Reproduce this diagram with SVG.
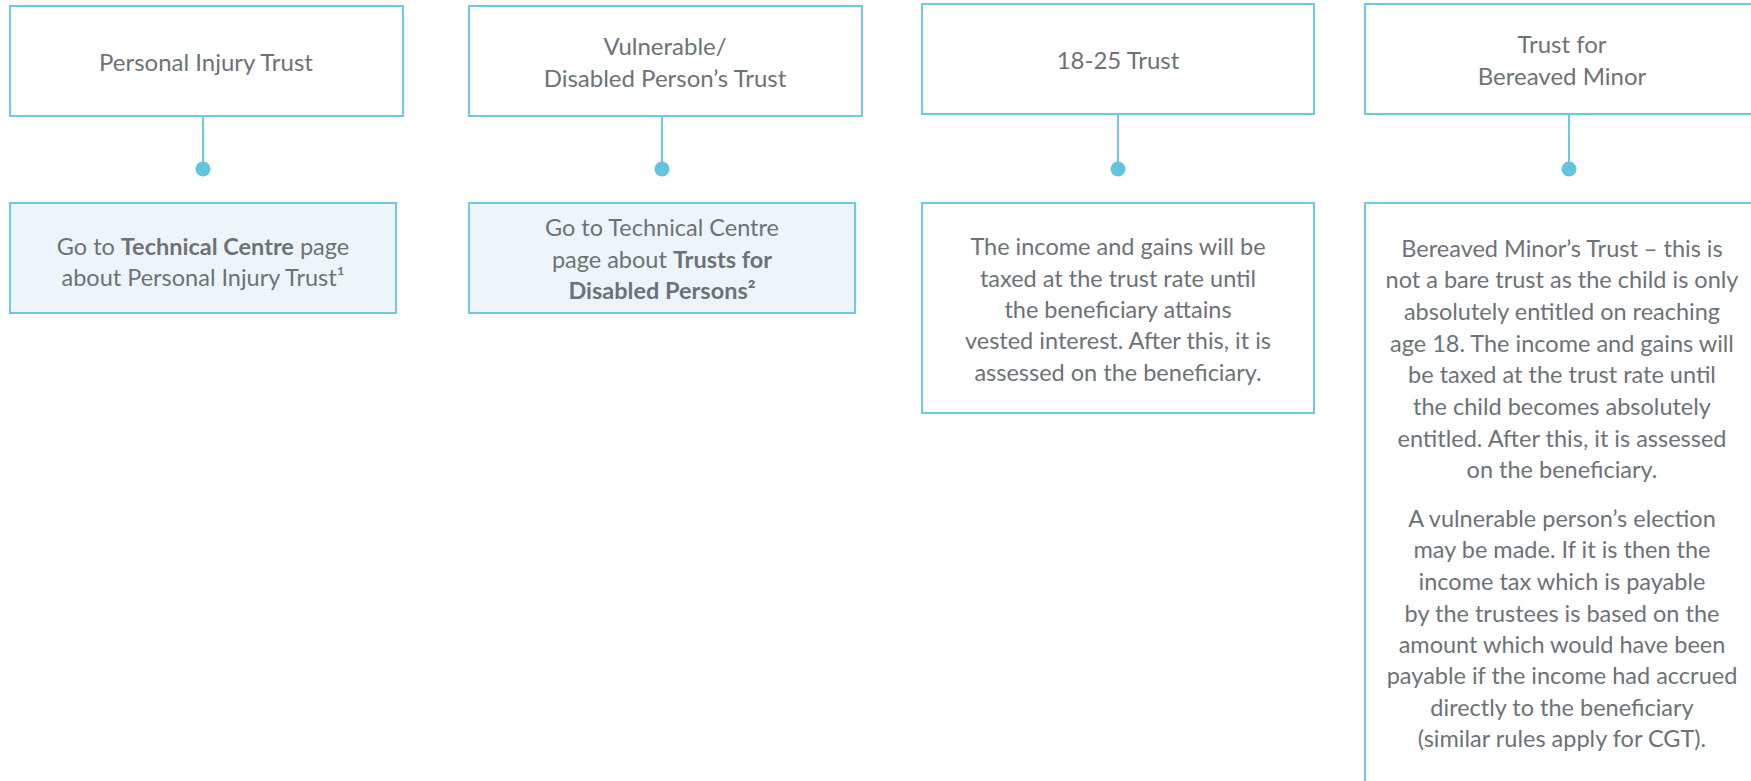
<svg xmlns="http://www.w3.org/2000/svg" width="1751" height="781" viewBox="0 0 1751 781">
  <style>
    .box { fill: #ffffff; stroke: #6ccbe1; stroke-width: 2; }
    .note { fill: #edf5fa; stroke: #6ccbe1; stroke-width: 2; }
    .link { stroke: #6ccbe1; stroke-width: 2; fill: none; }
    .dot { fill: #62c4dd; }
    text { font-family: Lato, "Open Sans", "Liberation Sans", sans-serif; font-size: 23.5px; fill: #6d7276; text-anchor: middle; }
    .title { font-size: 24px; }
    .b { font-weight: bold; }
  </style>
  <rect width="1751" height="781" fill="#ffffff"/>

  <!-- connectors: stem from each heading down to a dot -->
  <g id="connectors">
    <line class="link" x1="203" y1="116" x2="203" y2="169"/>
    <circle class="dot" cx="203" cy="169" r="7.5"/>
    <line class="link" x1="662" y1="116" x2="662" y2="169"/>
    <circle class="dot" cx="662" cy="169" r="7.5"/>
    <line class="link" x1="1118" y1="114" x2="1118" y2="169"/>
    <circle class="dot" cx="1118" cy="169" r="7.5"/>
    <line class="link" x1="1569" y1="114" x2="1569" y2="169"/>
    <circle class="dot" cx="1569" cy="169" r="7.5"/>
  </g>

  <!-- column 1 -->
  <g id="personal-injury">
    <rect class="box" x="10" y="6" width="393" height="110"/>
    <text class="title" x="206" y="71">Personal Injury Trust</text>
  </g>
  <g id="personal-injury-note">
    <rect class="note" x="10" y="203" width="386" height="110"/>
    <text x="203" y="255">Go to <tspan class="b">Technical Centre</tspan> page</text>
    <text x="203" y="286">about Personal Injury Trust¹</text>
  </g>

  <!-- column 2 -->
  <g id="disabled-person">
    <rect class="box" x="469" y="6" width="393" height="110"/>
    <text class="title" x="665" y="55">Vulnerable/</text>
    <text class="title" x="665" y="87">Disabled Person’s Trust</text>
  </g>
  <g id="disabled-person-note">
    <rect class="note" x="469" y="203" width="386" height="110"/>
    <text x="662" y="236">Go to Technical Centre</text>
    <text x="662" y="268">page about <tspan class="b">Trusts for</tspan></text>
    <text x="662" y="299" class="b">Disabled Persons²</text>
  </g>

  <!-- column 3 -->
  <g id="trust-18-25">
    <rect class="box" x="922" y="4" width="392" height="110"/>
    <text class="title" x="1118" y="69">18-25 Trust</text>
  </g>
  <g id="trust-18-25-note">
    <rect class="box" x="922" y="203" width="392" height="210"/>
    <text x="1118" y="255">The income and gains will be</text>
    <text x="1118" y="287">taxed at the trust rate until</text>
    <text x="1118" y="318">the beneficiary attains</text>
    <text x="1118" y="349">vested interest. After this, it is</text>
    <text x="1118" y="381">assessed on the beneficiary.</text>
  </g>

  <!-- column 4 (runs past the right and bottom edges) -->
  <g id="bereaved-minor">
    <rect class="box" x="1365" y="4" width="394" height="110"/>
    <text class="title" x="1562" y="53">Trust for</text>
    <text class="title" x="1562" y="85">Bereaved Minor</text>
  </g>
  <g id="bereaved-minor-note">
    <rect class="box" x="1365" y="203" width="394" height="600"/>
    <text x="1562" y="257">Bereaved Minor’s Trust – this is</text>
    <text x="1562" y="288">not a bare trust as the child is only</text>
    <text x="1562" y="320">absolutely entitled on reaching</text>
    <text x="1562" y="352">age 18. The income and gains will</text>
    <text x="1562" y="383">be taxed at the trust rate until</text>
    <text x="1562" y="415">the child becomes absolutely</text>
    <text x="1562" y="447">entitled. After this, it is assessed</text>
    <text x="1562" y="478">on the beneficiary.</text>
    <text x="1562" y="527">A vulnerable person’s election</text>
    <text x="1562" y="558">may be made. If it is then the</text>
    <text x="1562" y="590">income tax which is payable</text>
    <text x="1562" y="622">by the trustees is based on the</text>
    <text x="1562" y="653">amount which would have been</text>
    <text x="1562" y="684">payable if the income had accrued</text>
    <text x="1562" y="716">directly to the beneficiary</text>
    <text x="1562" y="747">(similar rules apply for CGT).</text>
  </g>
</svg>
